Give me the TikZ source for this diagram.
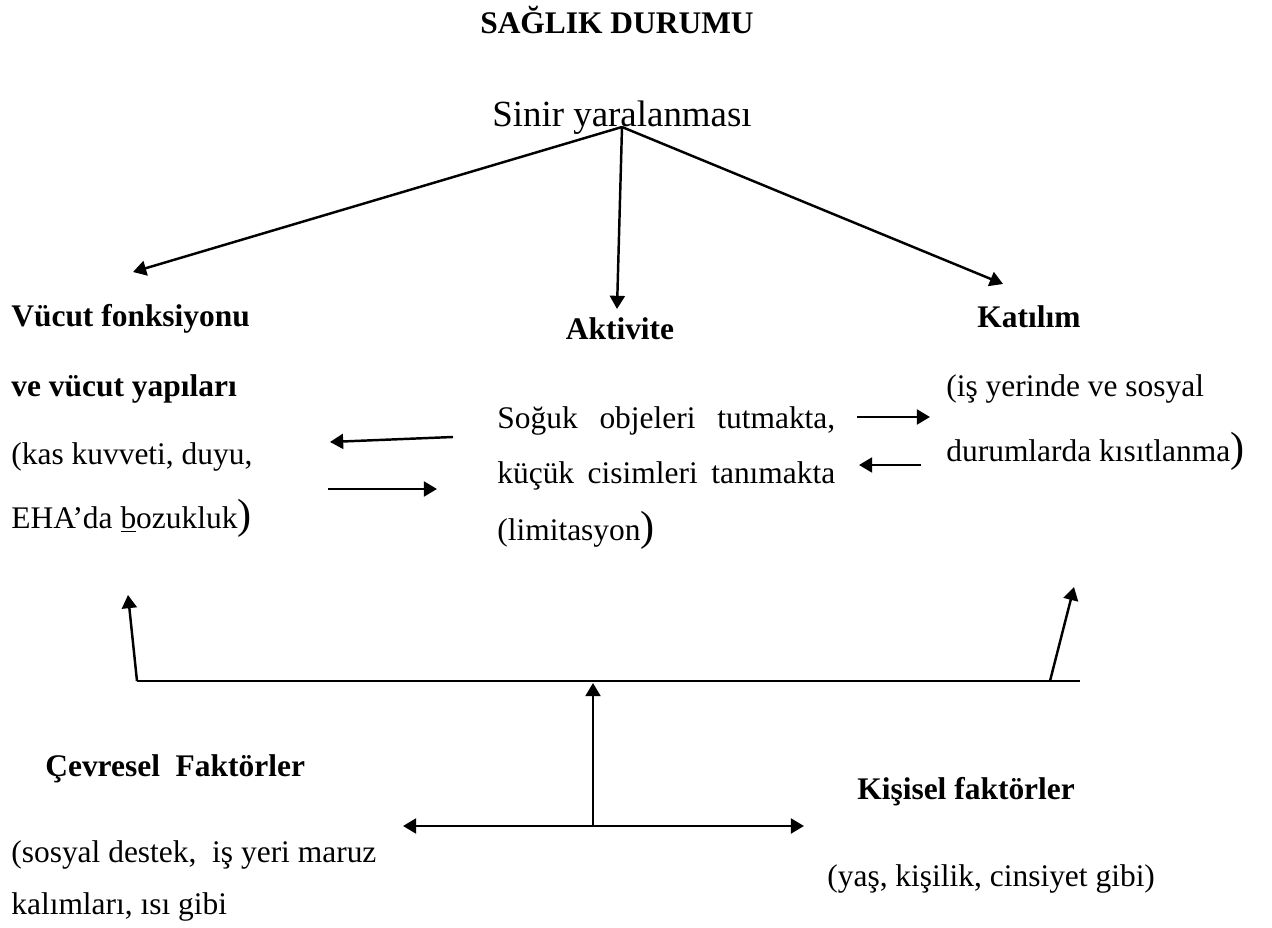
\documentclass[tikz,border=0pt]{standalone}
\usepackage{fontspec}
\setmainfont{Liberation Serif}
\usetikzlibrary{arrows.meta, positioning}
\newcommand\bigcl{{\fontsize{24}{24}\selectfont)}}

\begin{document}
\begin{tikzpicture}[
  x=0.02cm, y=-0.02cm,
  body/.style={inner sep=0pt, anchor=base west,
    font=\fontsize{17.9}{22}\selectfont},
  head/.style={inner sep=0pt, anchor=base west,
    font=\fontsize{17.9}{22}\selectfont\bfseries},
  arr/.style={-{Triangle[length=7.5pt,width=8.5pt]}, line width=1.4pt},
  dbl/.style={{Triangle[length=7.5pt,width=8.5pt]}-{Triangle[length=7.5pt,width=8.5pt]},
    line width=1.4pt},
  rule/.style={line width=1.1pt}
]
  \useasboundingbox (0,0) rectangle (1272,928);

  % top
  \node[head, anchor=base] (title) at (617,34) {SAĞLIK DURUMU};
  \node[inner sep=0pt, anchor=base, font=\fontsize{21}{25}\selectfont]
    (sinir) at (622,127) {Sinir yaralanması};

  % body functions
  \node[head] (vucut) at (11,327) {Vücut fonksiyonu};
  \node[head] (yapi)  at (11,397) {ve vücut yapıları};
  \node[body] (kas)   at (11,465) {(kas kuvveti, duyu,};
  \node[body] (eha)   at (11,529) {EHA’da \underline{b}ozukluk\bigcl};

  % activity
  \node[head, anchor=base] (akt) at (620,340) {Aktivite};
  \node[body] (soguk) at (497,429) {\makebox[6.76cm][s]{Soğuk objeleri tutmakta,}};
  \node[body] (kucuk) at (497,484) {\makebox[6.76cm][s]{küçük cisimleri tanımakta}};
  \node[body] (limit) at (497,541) {(limitasyon\bigcl};

  % participation
  \node[head, anchor=base] (katilim) at (1029,328) {Katılım};
  \node[body] (isyeri) at (946,397) {(iş yerinde ve sosyal};
  \node[body] (durum)  at (946,462) {durumlarda kısıtlanma\bigcl};

  % context factors
  \node[head] (cevre)  at (45,777) {Çevresel\ \ Faktörler};
  \node[body] (sosyal) at (11,863) {(sosyal destek,\ \ iş yeri maruz};
  \node[body] (kalim)  at (11,915) {kalımları, ısı gibi};
  \node[head] (kisi)   at (857,800) {Kişisel faktörler};
  \node[body] (yas)    at (827,887) {(yaş, kişilik, cinsiyet gibi)};

  \coordinate (bodytip) at (133,272);
  \coordinate (acttip)  at (617,309);
  \coordinate (parttip) at (1003,284);
  \coordinate (a2b-s) at (453,437);
  \coordinate (a2b-e) at (330,442);
  \coordinate (b2a-s) at (328,489);
  \coordinate (b2a-e) at (437,489);
  \coordinate (a2p-s) at (857,417);
  \coordinate (a2p-e) at (930,417);
  \coordinate (p2a-s) at (921,465);
  \coordinate (p2a-e) at (859,465);
  \coordinate (lfoot) at (137,681);
  \coordinate (rfoot) at (1050,681);
  \coordinate (rend)  at (1080,681);
  \coordinate (ltip)  at (128,595);
  \coordinate (rtip)  at (1074,587);
  \coordinate (mid)   at (593,683);
  \coordinate (junc)  at (593,826);
  \coordinate (envtip)  at (403,826);
  \coordinate (perstip) at (804,826);

  \draw[arr] (sinir.base) -- (bodytip);
  \draw[arr] (sinir.base) -- (acttip);
  \draw[arr] (sinir.base) -- (parttip);
  \draw[arr] (a2b-s) -- (a2b-e);
  \draw[arr] (b2a-s) -- (b2a-e);
  \draw[arr] (a2p-s) -- (a2p-e);
  \draw[arr] (p2a-s) -- (p2a-e);

  \draw[rule] (lfoot) -- (rend);
  \draw[arr] (lfoot) -- (ltip);
  \draw[arr] (rfoot) -- (rtip);
  \draw[arr] (junc) -- (mid);
  \draw[dbl] (envtip) -- (perstip);
\end{tikzpicture}
\end{document}
